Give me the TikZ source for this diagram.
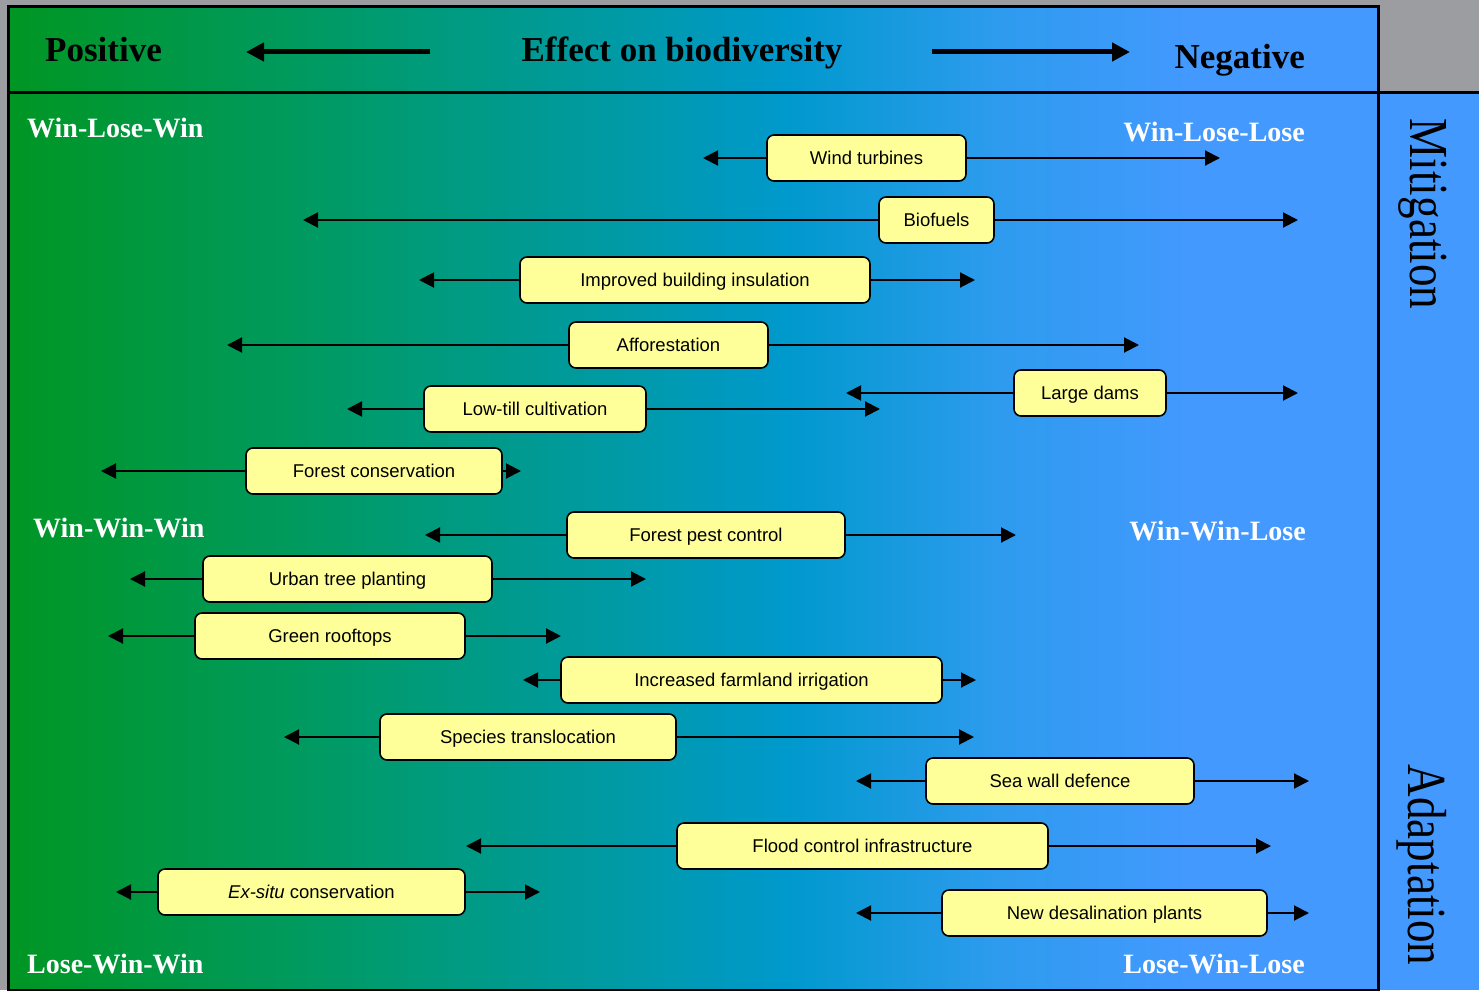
\documentclass[tikz,border=0pt]{standalone}
\usepackage{fontspec}
\setmainfont{Liberation Serif}
\newfontfamily\arialf{Liberation Sans}
\usetikzlibrary{arrows.meta}
\definecolor{bggray}{RGB}{155,157,160}
\definecolor{gA}{RGB}{0,150,35}
\definecolor{gB}{RGB}{0,155,115}
\definecolor{gC}{RGB}{0,153,205}
\definecolor{gD}{RGB}{45,155,238}
\definecolor{gR}{RGB}{68,153,255}
\definecolor{boxy}{RGB}{255,255,153}
\pgfdeclarehorizontalshading{bioshade}{100bp}{color(0bp)=(gA); color(25bp)=(gA); color(39bp)=(gB); color(53.5bp)=(gC); color(61bp)=(gD); color(68.5bp)=(gR); color(100bp)=(gR)}
\tikzset{
  frame/.style={line width=3pt, draw=black},
  box/.style={draw=black, line width=1.6pt, rounded corners=7pt, fill=boxy,
    font=\arialf\fontsize{18.5}{22}\selectfont, minimum height=46pt,
    inner sep=0pt, text height=15pt, text depth=1.8pt},
  arr/.style={line width=2pt, -{Triangle[length=15pt,width=15pt]}},
  hdrarr/.style={line width=5pt, -{Triangle[length=18pt,width=18pt]}},
  hdr/.style={font=\bfseries\fontsize{35}{40}\selectfont, inner sep=0pt, text=black},
  lab/.style={font=\bfseries\fontsize{28}{32}\selectfont, inner sep=0pt, text=white},
  side/.style={font=\fontsize{55}{60}\selectfont, inner sep=0pt, text=black, rotate=-90, anchor=base}
}
\begin{document}
\begin{tikzpicture}[x=1pt,y=-1pt]
\useasboundingbox (0,0) rectangle (1479,990);
\fill[bggray] (0,0) rectangle (1479,990);
\shade[shading=bioshade] (8,7) rectangle (1378,990);
\fill[gR] (1378,92) rectangle (1479,990);
\draw[frame] (8,7) rectangle (1378,990);
\draw[frame] (8,92) -- (1479,92);

% header
\node[hdr, anchor=base west] (pos) at (45,61) {Positive};
\node[hdr, anchor=base] (eff) at (682,62) {Effect on biodiversity};
\node[hdr, anchor=base east] (neg) at (1305,68) {Negative};
\coordinate (hla) at (430,52); \coordinate (hlb) at (246,52);
\coordinate (hra) at (932,52); \coordinate (hrb) at (1130,52);
\draw[hdrarr] (hla) -- (hlb);
\draw[hdrarr] (hra) -- (hrb);

% corner labels
\node[lab, anchor=base west] (wlw) at (27,137) {Win-Lose-Win};
\node[lab, anchor=base east] (wll) at (1305,141) {Win-Lose-Lose};
\node[lab, anchor=base west] (www) at (33,537) {Win-Win-Win};
\node[lab, anchor=base east] (wwl) at (1306,540) {Win-Win-Lose};
\node[lab, anchor=base west] (lww) at (27,973) {Lose-Win-Win};
\node[lab, anchor=base east] (lwl) at (1305,973) {Lose-Win-Lose};

% side labels
\node[side] (mit) at (1410,214) {\scalebox{0.82}[1]{Mitigation}};
\node[side] (ada) at (1408,865) {\scalebox{0.82}[1]{Adaptation}};

% measures
\foreach \n/\t/\x/\y/\w/\l/\r in {
  wind/{Wind turbines}/866.5/158/199/703/1220,
  bio/{Biofuels}/936.5/220/115/303/1298,
  insul/{Improved building insulation}/695/280/350/419/975,
  affor/{Afforestation}/668.5/345/199/227/1139,
  lowtill/{Low-till cultivation}/535/409/222/347/880,
  dams/{Large dams}/1090/393/152/846/1298,
  forcons/{Forest conservation}/374/471/256/101/521,
  pest/{Forest pest control}/706/535/278/425/1016,
  urban/{Urban tree planting}/347.5/579/289/130/646,
  green/{Green rooftops}/330/636/270/108/561,
  irrig/{Increased farmland irrigation}/751.5/680/381/523/976,
  species/{Species translocation}/528/737/296/284/974,
  seawall/{Sea wall defence}/1060/781/268/856/1309,
  flood/{Flood control infrastructure}/862.5/846/371/466/1271,
  exsitu/{\textit{Ex-situ} conservation}/311.5/892/307/116/540,
  desal/{New desalination plants}/1104.5/913/325/856/1309}
{
  \coordinate (\n L) at (\l,\y);
  \coordinate (\n R) at (\r,\y);
  \node[box, minimum width=\w pt] (\n) at (\x,\y) {\t};
  \draw[arr] (\n.west) -- (\n L);
  \draw[arr] (\n.east) -- (\n R);
}
\end{tikzpicture}
\end{document}
